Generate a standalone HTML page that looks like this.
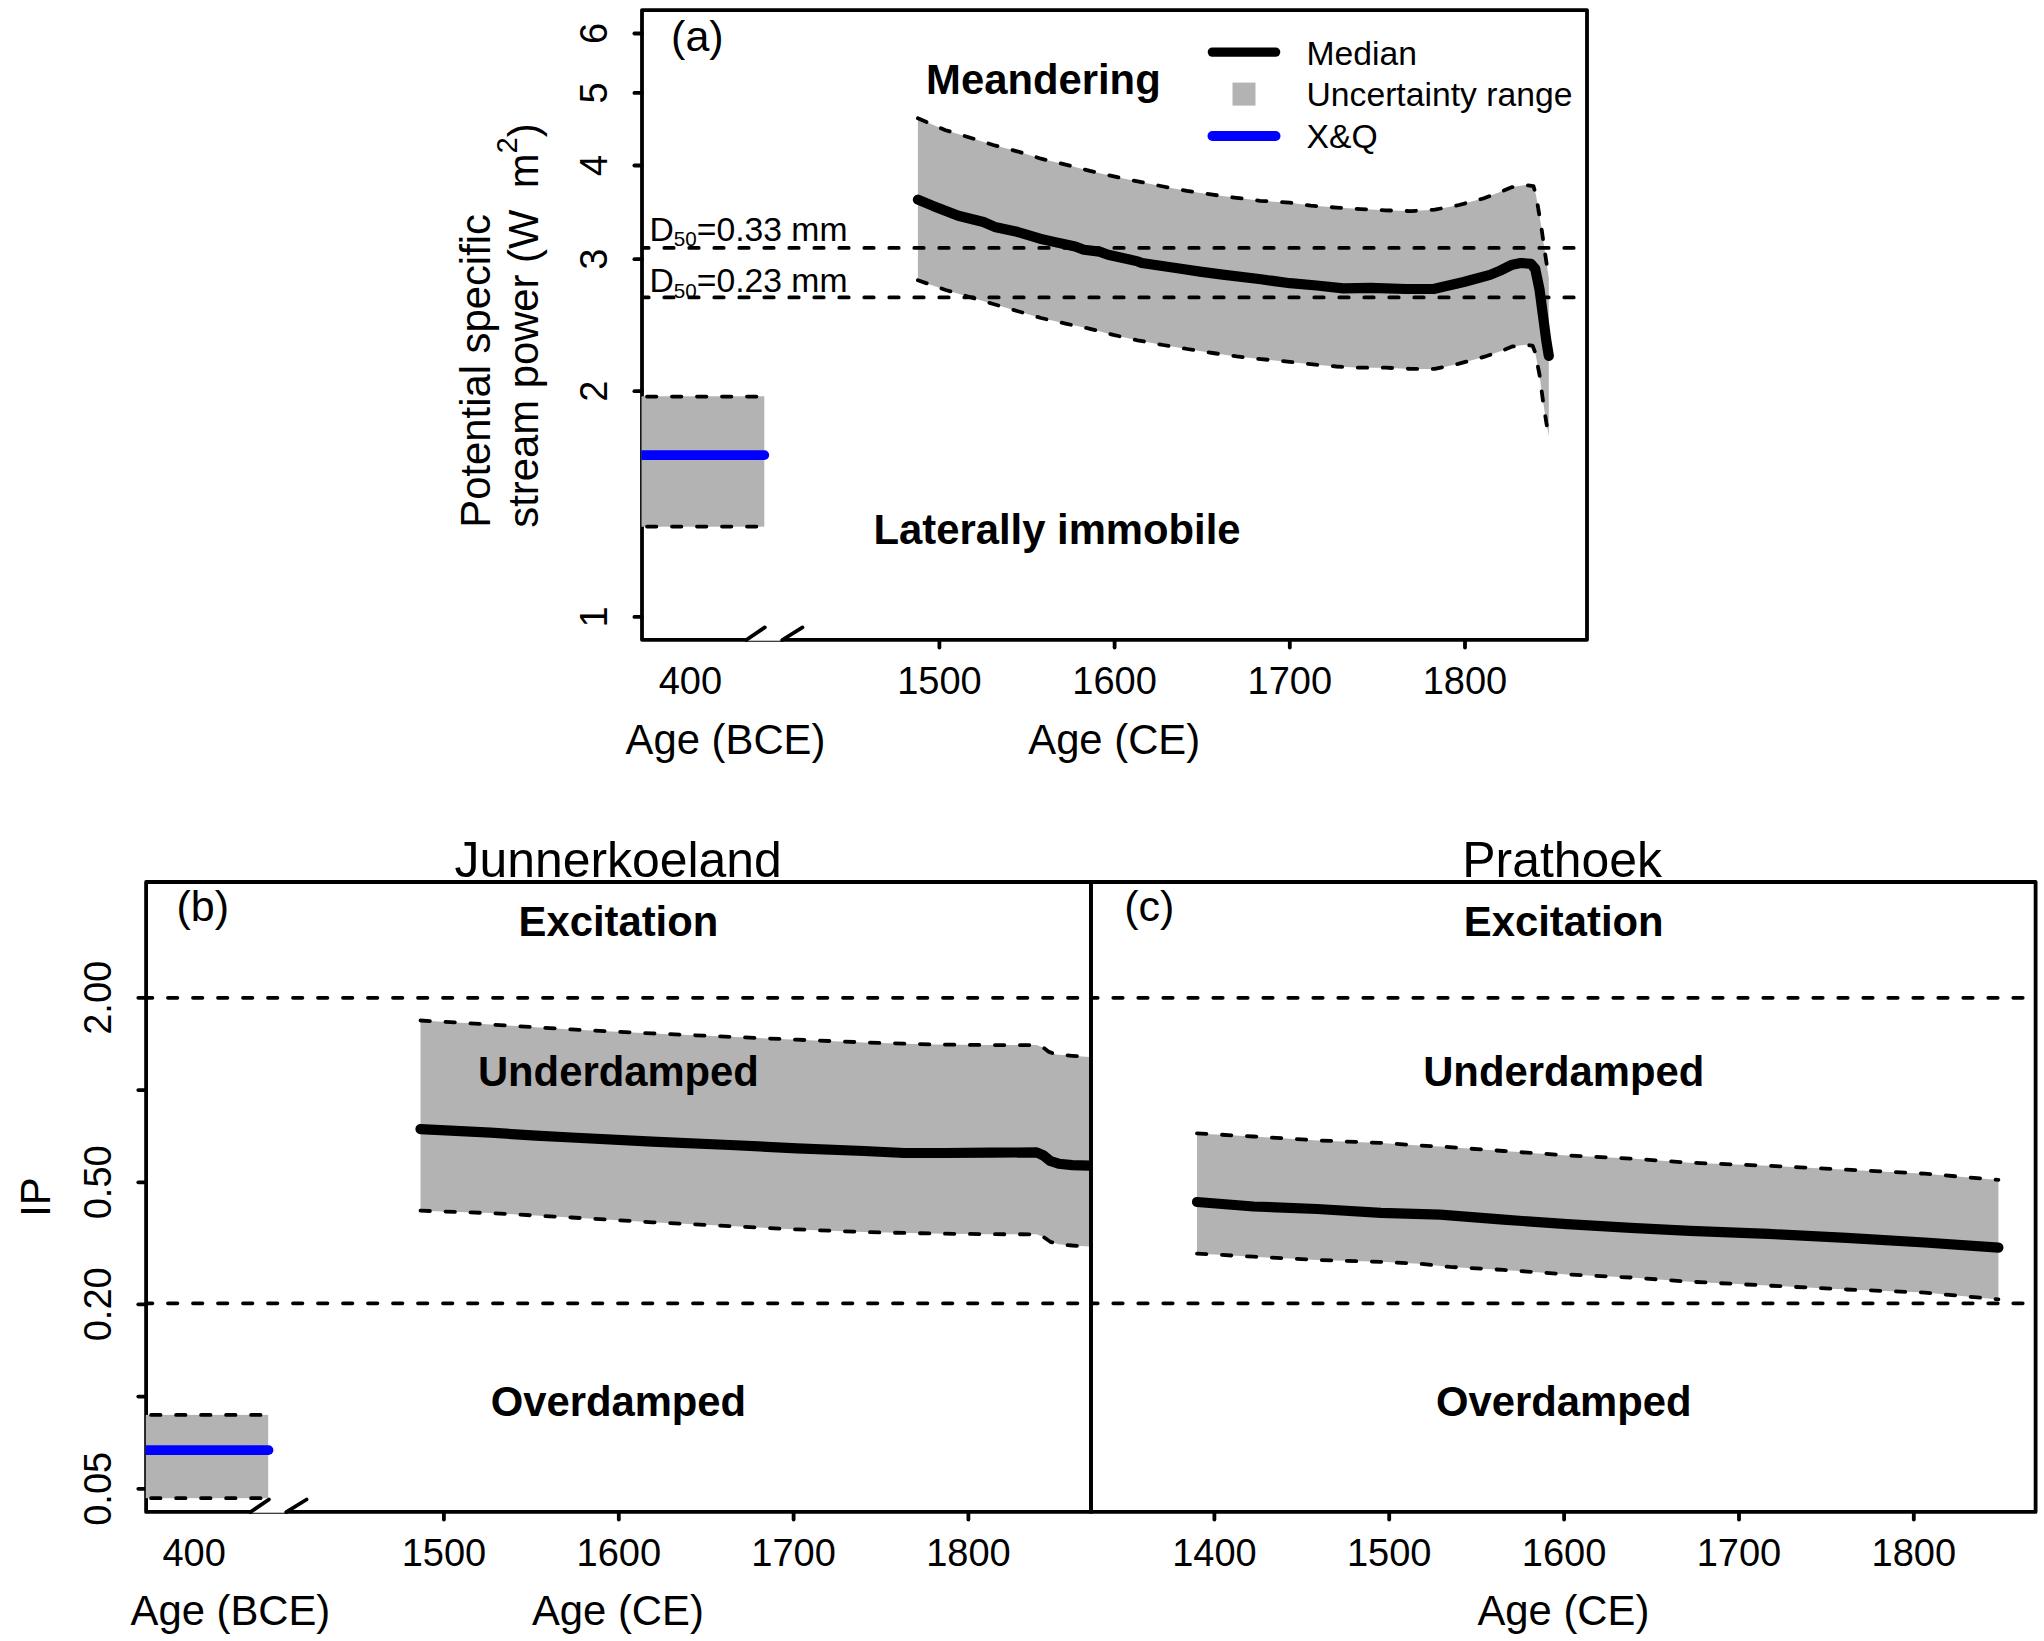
<!DOCTYPE html><html><head><meta charset="utf-8"><title>Stream power and IP</title>
<style>html,body{margin:0;padding:0;background:#fff;}svg{display:block;}text{font-family:"Liberation Sans", Arial, Helvetica, sans-serif;fill:#000;}</style></head><body>
<svg width="2044" height="1641" viewBox="0 0 2044 1641">
<rect x="0" y="0" width="2044" height="1641" fill="#fff"/>
<defs><clipPath id="ca"><rect x="641.3" y="10.1" width="943.7" height="629.7"/></clipPath><clipPath id="cb"><rect x="145.6" y="882" width="943.5" height="629.9"/></clipPath><clipPath id="cc"><rect x="1090.4" y="882" width="943.3" height="629.9"/></clipPath></defs>
<rect x="642" y="10.1" width="945" height="629.7" fill="none" stroke="#000" stroke-width="3.8" stroke-linejoin="round"/>
<g clip-path="url(#ca)">
<rect x="641.3" y="396.3" width="123" height="130.4" fill="#b3b3b3"/>
<polygon points="917.9,118.3 945.6,130.2 969.5,137.5 993.3,145 1017.1,151.3 1041,158.7 1065.5,164.6 1090,170.9 1113.9,176.4 1137.7,181.4 1163.3,186.5 1187,190.9 1212.6,194.7 1236.4,197.8 1260,200.8 1290,202.7 1310.8,205.6 1336.3,207.6 1360.6,209.1 1385.5,210.3 1410.4,211.1 1434.7,209.7 1459,205 1484.5,198.1 1501.9,191.3 1512.2,187.1 1525.8,185 1533.5,186.2 1536.1,195.6 1541.2,226.3 1544.6,250.2 1548.8,278.3 1548.8,278.3 1548.8,436.1 1548.4,434 1546.3,422.5 1542.9,400.3 1539.5,374.7 1535.2,352.5 1532.6,345.7 1525.8,344.8 1512.2,346.5 1501.9,350.8 1484.5,356.7 1459,363.7 1434.7,368.9 1410.4,368.9 1385.5,367.7 1360.6,367.7 1336.3,366.5 1310.8,364.2 1290,361.9 1260.9,359.1 1236.7,356.4 1212.6,353 1187.1,349 1163,345 1137.5,340.3 1113.4,334.9 1090,328.8 1065.5,323.6 1041,318 1017.1,311 993.3,304 969.5,297 945.6,290 917.9,280.2" fill="#b3b3b3"/>
<polyline points="917.9,118.3 945.6,130.2 969.5,137.5 993.3,145 1017.1,151.3 1041,158.7 1065.5,164.6 1090,170.9 1113.9,176.4 1137.7,181.4 1163.3,186.5 1187,190.9 1212.6,194.7 1236.4,197.8 1260,200.8 1290,202.7 1310.8,205.6 1336.3,207.6 1360.6,209.1 1385.5,210.3 1410.4,211.1 1434.7,209.7 1459,205 1484.5,198.1 1501.9,191.3 1512.2,187.1 1525.8,185 1533.5,186.2 1536.1,195.6 1541.2,226.3 1544.6,250.2 1548.8,278.3" fill="none" stroke="#000" stroke-width="3.8" stroke-dasharray="9.4 15.6" stroke-linecap="round" stroke-linejoin="round" />
<polyline points="917.9,280.2 945.6,290 969.5,297 993.3,304 1017.1,311 1041,318 1065.5,323.6 1090,328.8 1113.4,334.9 1137.5,340.3 1163,345 1187.1,349 1212.6,353 1236.7,356.4 1260.9,359.1 1290,361.9 1310.8,364.2 1336.3,366.5 1360.6,367.7 1385.5,367.7 1410.4,368.9 1434.7,368.9 1459,363.7 1484.5,356.7 1501.9,350.8 1512.2,346.5 1525.8,344.8 1532.6,345.7 1535.2,352.5 1539.5,374.7 1542.9,400.3 1546.3,422.5 1548.4,434" fill="none" stroke="#000" stroke-width="3.8" stroke-dasharray="9.4 15.6" stroke-linecap="round" stroke-linejoin="round" />
<polyline points="639.3,247.9 1586,247.9" fill="none" stroke="#000" stroke-width="3.8" stroke-dasharray="9.4 15.6" stroke-linecap="round" stroke-linejoin="round" />
<polyline points="639.3,297.4 1586,297.4" fill="none" stroke="#000" stroke-width="3.8" stroke-dasharray="9.4 15.6" stroke-linecap="round" stroke-linejoin="round" />
<polyline points="647,396.6 764.3,396.6" fill="none" stroke="#000" stroke-width="3.8" stroke-dasharray="9.4 15.6" stroke-linecap="round" stroke-linejoin="round" />
<polyline points="647,526.6 764.3,526.6" fill="none" stroke="#000" stroke-width="3.8" stroke-dasharray="9.4 15.6" stroke-linecap="round" stroke-linejoin="round" />
<polyline points="917.9,199.6 933,205.9 958.3,215.7 983.5,222 994.7,226.9 1017.1,231.8 1040,238.7 1051.7,241.4 1075.2,246.5 1083.8,249.7 1099.5,251.6 1108.1,254.7 1137.8,261.4 1141.8,263 1180.9,268.8 1200,271.6 1220.6,274.4 1260.9,279.3 1290,283.2 1316.6,285.5 1343.3,288.4 1371,287.8 1405.8,289 1433.6,289 1463.7,282 1490,274.9 1500.2,270.6 1512.2,264.7 1520.7,263 1530.9,263.8 1535.2,268.9 1539.5,289.4 1542.9,315 1546.3,340.6 1548.8,355.9" fill="none" stroke="#000" stroke-width="10.2" stroke-linecap="round" stroke-linejoin="round"/>
<polyline points="636,455.1 764.3,455.1" fill="none" stroke="#0000ff" stroke-width="9.8" stroke-linecap="round" stroke-linejoin="round"/>
</g>
<line x1="634.4" y1="616.9" x2="642" y2="616.9" stroke="#000" stroke-width="3.8" stroke-linecap="round"/>
<text x="606.6" y="616.9" font-size="38" text-anchor="middle" transform="rotate(-90 606.6 616.9)">1</text>
<line x1="634.4" y1="391.2" x2="642" y2="391.2" stroke="#000" stroke-width="3.8" stroke-linecap="round"/>
<text x="606.6" y="391.2" font-size="38" text-anchor="middle" transform="rotate(-90 606.6 391.2)">2</text>
<line x1="634.4" y1="259.2" x2="642" y2="259.2" stroke="#000" stroke-width="3.8" stroke-linecap="round"/>
<text x="606.6" y="259.2" font-size="38" text-anchor="middle" transform="rotate(-90 606.6 259.2)">3</text>
<line x1="634.4" y1="165.5" x2="642" y2="165.5" stroke="#000" stroke-width="3.8" stroke-linecap="round"/>
<text x="606.6" y="165.5" font-size="38" text-anchor="middle" transform="rotate(-90 606.6 165.5)">4</text>
<line x1="634.4" y1="92.9" x2="642" y2="92.9" stroke="#000" stroke-width="3.8" stroke-linecap="round"/>
<text x="606.6" y="92.9" font-size="38" text-anchor="middle" transform="rotate(-90 606.6 92.9)">5</text>
<line x1="634.4" y1="33.5" x2="642" y2="33.5" stroke="#000" stroke-width="3.8" stroke-linecap="round"/>
<text x="606.6" y="33.5" font-size="38" text-anchor="middle" transform="rotate(-90 606.6 33.5)">6</text>
<line x1="939.4" y1="639.8" x2="939.4" y2="647.6" stroke="#000" stroke-width="3.8" stroke-linecap="round"/>
<text x="939.4" y="694" font-size="38" text-anchor="middle">1500</text>
<line x1="1114.6" y1="639.8" x2="1114.6" y2="647.6" stroke="#000" stroke-width="3.8" stroke-linecap="round"/>
<text x="1114.6" y="694" font-size="38" text-anchor="middle">1600</text>
<line x1="1289.8" y1="639.8" x2="1289.8" y2="647.6" stroke="#000" stroke-width="3.8" stroke-linecap="round"/>
<text x="1289.8" y="694" font-size="38" text-anchor="middle">1700</text>
<line x1="1465" y1="639.8" x2="1465" y2="647.6" stroke="#000" stroke-width="3.8" stroke-linecap="round"/>
<text x="1465" y="694" font-size="38" text-anchor="middle">1800</text>
<text x="690.4" y="694" font-size="38" text-anchor="middle">400</text>
<text x="725.5" y="753.9" font-size="41.8" text-anchor="middle">Age (BCE)</text>
<text x="1114.2" y="753.9" font-size="41.8" text-anchor="middle">Age (CE)</text>
<polygon points="746.5,640.7 765,627.5 801.5,627.5 780,640.7" fill="#fff"/>
<line x1="746.2" y1="640" x2="764.8" y2="627.4" stroke="#000" stroke-width="3.8" stroke-linecap="round"/>
<line x1="782.2" y1="640" x2="802.5" y2="627.4" stroke="#000" stroke-width="3.8" stroke-linecap="round"/>
<text x="489.7" y="527.7" font-size="41.8" text-anchor="start" transform="rotate(-90 489.7 527.7)">Potential specific</text>
<text x="538" y="527.7" font-size="41.8" transform="rotate(-90 538 527.7)">stream power (W<tspan dx="21.2">m</tspan><tspan dy="-20.9" font-size="29.3">2</tspan><tspan dy="20.9">)</tspan></text>
<text x="671.1" y="50.5" font-size="43" text-anchor="start">(a)</text>
<text x="1043.4" y="94.3" font-size="41.8" text-anchor="middle" font-weight="bold">Meandering</text>
<text x="1057" y="544.4" font-size="41.8" text-anchor="middle" font-weight="bold">Laterally immobile</text>
<text x="649.5" y="240.5" font-size="33.7">D<tspan dy="5.9" font-size="20.6">50</tspan><tspan dy="-5.9">=0.33 mm</tspan></text>
<text x="649.5" y="291.6" font-size="33.7">D<tspan dy="5.9" font-size="20.6">50</tspan><tspan dy="-5.9">=0.23 mm</tspan></text>
<polyline points="1212.4,52.1 1275.6,52.1" fill="none" stroke="#000" stroke-width="9.4" stroke-linecap="round" stroke-linejoin="round"/>
<rect x="1232.5" y="82.6" width="23" height="23" fill="#b3b3b3"/>
<polyline points="1212.4,136 1275.6,136" fill="none" stroke="#0000ff" stroke-width="9.8" stroke-linecap="round" stroke-linejoin="round"/>
<text x="1306.5" y="64.6" font-size="33.7" text-anchor="start">Median</text>
<text x="1306.5" y="106.1" font-size="33.7" text-anchor="start">Uncertainty range</text>
<text x="1306.5" y="148.2" font-size="33.7" text-anchor="start">X&amp;Q</text>
<rect x="146.1" y="882" width="944.9" height="629.9" fill="none" stroke="#000" stroke-width="3.8" stroke-linejoin="round"/>
<line x1="138.3" y1="997.8" x2="146.1" y2="997.8" stroke="#000" stroke-width="3.8" stroke-linecap="round"/>
<text x="110.9" y="997.8" font-size="38" text-anchor="middle" transform="rotate(-90 110.9 997.8)">2.00</text>
<line x1="138.3" y1="1090.1" x2="146.1" y2="1090.1" stroke="#000" stroke-width="3.8" stroke-linecap="round"/>
<line x1="138.3" y1="1182.3" x2="146.1" y2="1182.3" stroke="#000" stroke-width="3.8" stroke-linecap="round"/>
<text x="110.9" y="1182.3" font-size="38" text-anchor="middle" transform="rotate(-90 110.9 1182.3)">0.50</text>
<line x1="138.3" y1="1304.3" x2="146.1" y2="1304.3" stroke="#000" stroke-width="3.8" stroke-linecap="round"/>
<text x="110.9" y="1304.3" font-size="38" text-anchor="middle" transform="rotate(-90 110.9 1304.3)">0.20</text>
<line x1="138.3" y1="1396.6" x2="146.1" y2="1396.6" stroke="#000" stroke-width="3.8" stroke-linecap="round"/>
<line x1="138.3" y1="1488.8" x2="146.1" y2="1488.8" stroke="#000" stroke-width="3.8" stroke-linecap="round"/>
<text x="110.9" y="1488.8" font-size="38" text-anchor="middle" transform="rotate(-90 110.9 1488.8)">0.05</text>
<g clip-path="url(#cb)">
<rect x="145.5" y="1414.9" width="122.7" height="83.3" fill="#b3b3b3"/>
<polygon points="420.5,1020.5 490.7,1024.5 571.4,1029.4 652.2,1033.4 730,1036.8 797,1039.7 864.1,1042.4 931.1,1044.4 990,1045.1 1036.6,1045.1 1043.5,1047.8 1049,1051.9 1055.8,1054.4 1072.3,1055.8 1089.5,1057.1 1089.5,1246.6 1072.3,1245.5 1058.6,1244.2 1050.3,1241.8 1043.5,1237 1036.6,1234.3 990,1234.2 931.1,1233.5 864.1,1232.1 797,1229.4 730,1226.1 652.2,1222.3 571.4,1217.5 490.7,1213.1 420.5,1210.7" fill="#b3b3b3"/>
<polyline points="420.5,1020.5 490.7,1024.5 571.4,1029.4 652.2,1033.4 730,1036.8 797,1039.7 864.1,1042.4 931.1,1044.4 990,1045.1 1036.6,1045.1 1043.5,1047.8 1049,1051.9 1055.8,1054.4 1072.3,1055.8 1089.5,1057.1" fill="none" stroke="#000" stroke-width="3.8" stroke-dasharray="9.4 15.6" stroke-linecap="round" stroke-linejoin="round" />
<polyline points="420.5,1210.7 490.7,1213.1 571.4,1217.5 652.2,1222.3 730,1226.1 797,1229.4 864.1,1232.1 931.1,1233.5 990,1234.2 1036.6,1234.3 1043.5,1237 1050.3,1241.8 1058.6,1244.2 1072.3,1245.5 1089.5,1246.6" fill="none" stroke="#000" stroke-width="3.8" stroke-dasharray="9.4 15.6" stroke-linecap="round" stroke-linejoin="round" />
<polyline points="143,997.8 1089,997.8" fill="none" stroke="#000" stroke-width="3.8" stroke-dasharray="9.4 15.6" stroke-linecap="round" stroke-linejoin="round" />
<polyline points="143,1303.3 1089,1303.3" fill="none" stroke="#000" stroke-width="3.8" stroke-dasharray="9.4 15.6" stroke-linecap="round" stroke-linejoin="round" />
<polyline points="151.1,1414.9 268.2,1414.9" fill="none" stroke="#000" stroke-width="3.8" stroke-dasharray="9.4 15.6" stroke-linecap="round" stroke-linejoin="round" />
<polyline points="151.1,1498.2 268.2,1498.2" fill="none" stroke="#000" stroke-width="3.8" stroke-dasharray="9.4 15.6" stroke-linecap="round" stroke-linejoin="round" />
<polyline points="420.5,1129.1 490.7,1132.7 535.9,1135.6 571.4,1137.5 652.2,1141.6 730,1145 797,1148.3 864.1,1151 904.3,1153 944.5,1153 990,1152.7 1036.6,1152.4 1043.5,1155.5 1050.3,1161 1058.6,1163.7 1072.3,1165.1 1095,1165.8" fill="none" stroke="#000" stroke-width="10.2" stroke-linecap="round" stroke-linejoin="round"/>
<polyline points="140,1450.1 268.5,1450.1" fill="none" stroke="#0000ff" stroke-width="9.8" stroke-linecap="round" stroke-linejoin="round"/>
</g>
<line x1="443.9" y1="1511.9" x2="443.9" y2="1519.6" stroke="#000" stroke-width="3.8" stroke-linecap="round"/>
<text x="443.9" y="1565.8" font-size="38" text-anchor="middle">1500</text>
<line x1="618.8" y1="1511.9" x2="618.8" y2="1519.6" stroke="#000" stroke-width="3.8" stroke-linecap="round"/>
<text x="618.8" y="1565.8" font-size="38" text-anchor="middle">1600</text>
<line x1="793.6" y1="1511.9" x2="793.6" y2="1519.6" stroke="#000" stroke-width="3.8" stroke-linecap="round"/>
<text x="793.6" y="1565.8" font-size="38" text-anchor="middle">1700</text>
<line x1="968.4" y1="1511.9" x2="968.4" y2="1519.6" stroke="#000" stroke-width="3.8" stroke-linecap="round"/>
<text x="968.4" y="1565.8" font-size="38" text-anchor="middle">1800</text>
<text x="194.2" y="1565.8" font-size="38" text-anchor="middle">400</text>
<text x="230.4" y="1624.5" font-size="41.8" text-anchor="middle">Age (BCE)</text>
<text x="617.9" y="1624.5" font-size="41.8" text-anchor="middle">Age (CE)</text>
<polygon points="250.6,1512.8 269.1,1499.6 305.6,1499.6 284.1,1512.8" fill="#fff"/>
<line x1="250.4" y1="1512.1" x2="268.9" y2="1499.5" stroke="#000" stroke-width="3.8" stroke-linecap="round"/>
<line x1="286.2" y1="1512.1" x2="306.6" y2="1499.5" stroke="#000" stroke-width="3.8" stroke-linecap="round"/>
<text x="50" y="1197" font-size="41.8" text-anchor="middle" transform="rotate(-90 50 1197)">IP</text>
<text x="618.2" y="876.5" font-size="49.9" text-anchor="middle">Junnerkoeland</text>
<text x="176.5" y="921.2" font-size="43" text-anchor="start">(b)</text>
<text x="618.4" y="936.2" font-size="41.8" text-anchor="middle" font-weight="bold">Excitation</text>
<text x="618.4" y="1086.3" font-size="41.8" text-anchor="middle" font-weight="bold">Underdamped</text>
<text x="618.4" y="1416" font-size="41.8" text-anchor="middle" font-weight="bold">Overdamped</text>
<rect x="1090.9" y="882" width="944.7" height="629.9" fill="none" stroke="#000" stroke-width="3.8" stroke-linejoin="round"/>
<g clip-path="url(#cc)">
<polygon points="1197,1133.4 1253.6,1136.5 1317.2,1140.4 1380.8,1142.9 1419,1145.4 1440,1146.5 1503.6,1151 1567.2,1155.4 1630.8,1158.6 1690,1162.7 1768.3,1165.8 1846.6,1169.7 1924.8,1173.7 1998.4,1179.9 1998.4,1299.4 1924.8,1292.6 1846.6,1289.5 1768.3,1285.6 1690,1281.7 1630.8,1277.5 1567.2,1274.4 1503.6,1269.9 1450,1266.9 1419,1263.7 1380.8,1261.8 1317.2,1260 1253.6,1256.7 1197,1253.6" fill="#b3b3b3"/>
<polyline points="1197,1133.4 1253.6,1136.5 1317.2,1140.4 1380.8,1142.9 1419,1145.4 1440,1146.5 1503.6,1151 1567.2,1155.4 1630.8,1158.6 1690,1162.7 1768.3,1165.8 1846.6,1169.7 1924.8,1173.7 1998.4,1179.9" fill="none" stroke="#000" stroke-width="3.8" stroke-dasharray="9.4 15.6" stroke-linecap="round" stroke-linejoin="round" />
<polyline points="1197,1253.6 1253.6,1256.7 1317.2,1260 1380.8,1261.8 1419,1263.7 1450,1266.9 1503.6,1269.9 1567.2,1274.4 1630.8,1277.5 1690,1281.7 1768.3,1285.6 1846.6,1289.5 1924.8,1292.6 1998.4,1299.4" fill="none" stroke="#000" stroke-width="3.8" stroke-dasharray="9.4 15.6" stroke-linecap="round" stroke-linejoin="round" />
<polyline points="1088.3,997.8 2034,997.8" fill="none" stroke="#000" stroke-width="3.8" stroke-dasharray="9.4 15.6" stroke-linecap="round" stroke-linejoin="round" />
<polyline points="1088.3,1303.3 2034,1303.3" fill="none" stroke="#000" stroke-width="3.8" stroke-dasharray="9.4 15.6" stroke-linecap="round" stroke-linejoin="round" />
<polyline points="1197,1202 1253.6,1206.5 1317.2,1209 1380.8,1212.9 1440,1214.6 1503.6,1219.7 1567.2,1224.1 1630.8,1227.9 1690,1230.8 1768.3,1233.9 1846.6,1237.8 1924.8,1242.5 1998.4,1247.7" fill="none" stroke="#000" stroke-width="10.2" stroke-linecap="round" stroke-linejoin="round"/>
</g>
<line x1="1214.4" y1="1511.9" x2="1214.4" y2="1519.6" stroke="#000" stroke-width="3.8" stroke-linecap="round"/>
<text x="1214.4" y="1565.8" font-size="38" text-anchor="middle">1400</text>
<line x1="1389.2" y1="1511.9" x2="1389.2" y2="1519.6" stroke="#000" stroke-width="3.8" stroke-linecap="round"/>
<text x="1389.2" y="1565.8" font-size="38" text-anchor="middle">1500</text>
<line x1="1564.1" y1="1511.9" x2="1564.1" y2="1519.6" stroke="#000" stroke-width="3.8" stroke-linecap="round"/>
<text x="1564.1" y="1565.8" font-size="38" text-anchor="middle">1600</text>
<line x1="1739" y1="1511.9" x2="1739" y2="1519.6" stroke="#000" stroke-width="3.8" stroke-linecap="round"/>
<text x="1739" y="1565.8" font-size="38" text-anchor="middle">1700</text>
<line x1="1913.8" y1="1511.9" x2="1913.8" y2="1519.6" stroke="#000" stroke-width="3.8" stroke-linecap="round"/>
<text x="1913.8" y="1565.8" font-size="38" text-anchor="middle">1800</text>
<text x="1563.4" y="1624.5" font-size="41.8" text-anchor="middle">Age (CE)</text>
<text x="1562.2" y="876.5" font-size="49.9" text-anchor="middle">Prathoek</text>
<text x="1124.3" y="921.2" font-size="43" text-anchor="start">(c)</text>
<text x="1563.7" y="936.2" font-size="41.8" text-anchor="middle" font-weight="bold">Excitation</text>
<text x="1563.7" y="1086.3" font-size="41.8" text-anchor="middle" font-weight="bold">Underdamped</text>
<text x="1563.7" y="1416" font-size="41.8" text-anchor="middle" font-weight="bold">Overdamped</text>
</svg></body></html>
